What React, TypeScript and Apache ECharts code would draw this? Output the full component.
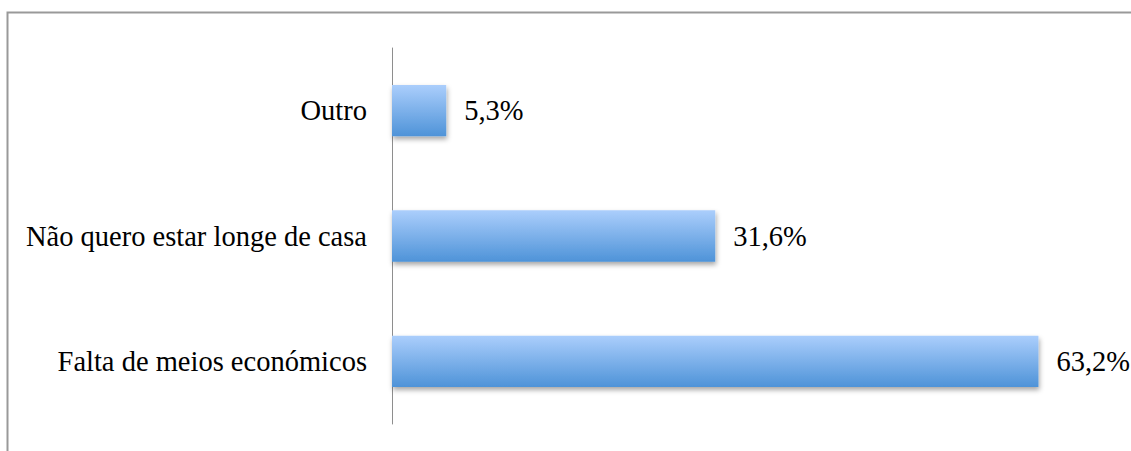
import React, { useEffect, useRef } from "react";
import * as echarts from "echarts";

const categories = ["Outro", "Não quero estar longe de casa", "Falta de meios económicos"];
const values = [5.3, 31.6, 63.2];

export default function App() {
  const ref = useRef<HTMLDivElement>(null);
  useEffect(() => {
    if (!ref.current) return;
    const chart = echarts.init(ref.current, undefined, { renderer: "svg" });
    chart.setOption({
      animation: false,
      backgroundColor: "#ffffff",
      textStyle: { fontFamily: "Liberation Serif" },
      grid: { left: 392, top: 48, bottom: 27, right: 23, containLabel: false },
      xAxis: {
        type: "value",
        min: 0,
        max: 70,
        show: false,
      },
      yAxis: {
        type: "category",
        data: categories,
        inverse: true,
        axisLine: { show: true, lineStyle: { color: "#8e8e8e", width: 1 } },
        axisTick: { show: false },
        axisLabel: {
          color: "#000000",
          fontSize: 28.5,
          fontFamily: "Liberation Serif",
          margin: 25,
        },
      },
      series: [
        {
          type: "bar",
          data: values,
          barCategoryGap: "59%",
          itemStyle: {
            color: new echarts.graphic.LinearGradient(0, 0, 0, 1, [
              { offset: 0, color: "#abcefc" },
              { offset: 1, color: "#4e93d8" },
            ]),
            shadowColor: "rgba(0,0,0,0.35)",
            shadowBlur: 5,
            shadowOffsetX: 1,
            shadowOffsetY: 3,
          },
          label: {
            show: true,
            position: "right",
            distance: 18,
            color: "#000000",
            fontSize: 28.5,
            fontFamily: "Liberation Serif",
            formatter: (p: any) => String(p.value.toFixed(1)).replace(".", ",") + "%",
          },
        },
      ],
      graphic: [
        {
          type: "rect",
          shape: { x: 7.5, y: 12.5, width: 1300, height: 600 },
          style: { fill: "none", stroke: "#999999", lineWidth: 2 },
          silent: true,
        },
      ],
    });
    return () => chart.dispose();
  }, []);
  return (
    <div
      ref={ref}
      style={{ position: "absolute", left: 0, top: 0, width: 1131, height: 451 }}
    />
  );
}
